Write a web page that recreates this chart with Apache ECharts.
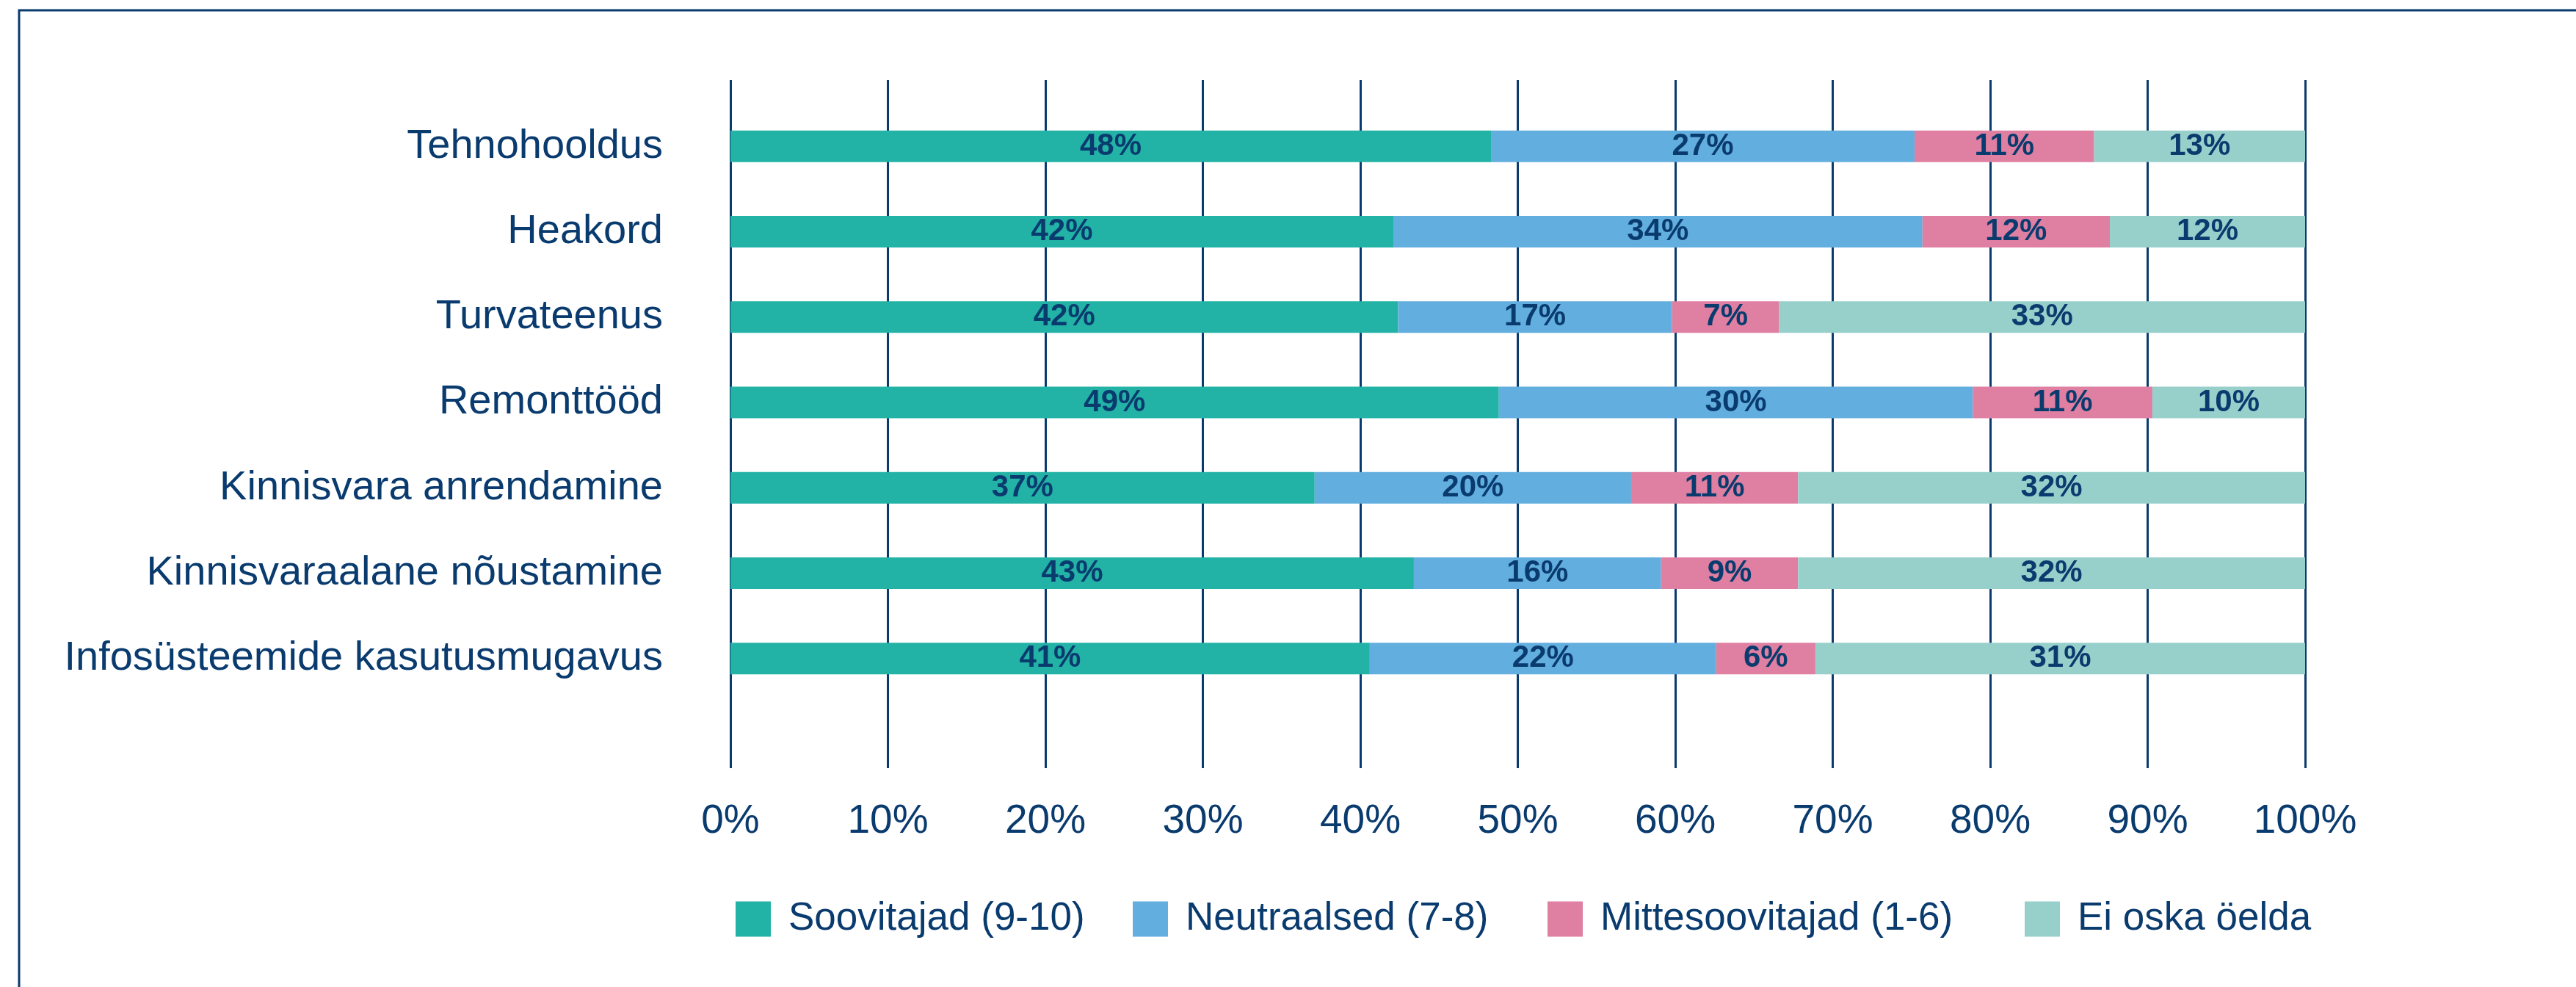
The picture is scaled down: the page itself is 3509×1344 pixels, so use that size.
<!DOCTYPE html>
<html>
<head>
<meta charset="utf-8">
<title>Soovitusindeks teenuste lõikes</title>
<script src="https://cdn.jsdelivr.net/npm/echarts@6/dist/echarts.min.js"></script>
<style>
  html, body { margin: 0; padding: 0; background: #fff; }
  #main { width: 3509px; height: 1344px; }
</style>
</head>
<body>
<div id="main"></div>
<script>
// andmed
var categories = [
  "Tehnohooldus",
  "Heakord",
  "Turvateenus",
  "Remonttööd",
  "Kinnisvara anrendamine",
  "Kinnisvaraalane nõustamine",
  "Infosüsteemide kasutusmugavus"
];
var seriesNames = ["Soovitajad (9-10)", "Neutraalsed (7-8)", "Mittesoovitajad (1-6)", "Ei oska öelda"];
var soovitajad = [48.3, 42.1, 42.4, 48.8, 37.1, 43.4, 40.6];
var neutraalsed = [26.9, 33.6, 17.4, 30.1, 20.1, 15.7, 22.0];
var mittesoovitajad = [11.4, 11.9, 6.8, 11.4, 10.6, 8.7, 6.3];
var eiOska = [13.4, 12.4, 33.4, 9.7, 32.2, 32.2, 31.1];
var xTicks = [0, 10, 20, 30, 40, 50, 60, 70, 80, 90, 100];

var navy = "#0a3b6e";
var colors = ["#22b2a6", "#62aedf", "#df7fa1", "#97d0cb"];
var font = "'Liberation Sans', Arial, sans-serif";
// legendi kirjete vasakud servad (Excelis pole vahed ühtlased)
var legendLeft = [997, 1538, 2103, 2753];

var chart = echarts.init(document.getElementById("main"));

function bar(name, data, i) {
  return {
    name: name,
    type: "bar",
    stack: "kokku",
    xAxisIndex: 1,
    yAxisIndex: 1,
    barWidth: 43,
    data: data,
    itemStyle: { color: colors[i] },
    label: {
      show: true,
      position: "inside",
      color: navy,
      fontFamily: font,
      fontWeight: "bold",
      fontSize: 42,
      formatter: function (p) { return Math.round(p.value) + "%"; }
    }
  };
}

var legends = seriesNames.map(function (name, i) {
  return {
    data: [name],
    left: legendLeft[i],
    top: 1220,
    itemWidth: 48,
    itemHeight: 48,
    icon: "rect",
    textStyle: { color: navy, fontFamily: font, fontSize: 53, padding: [0, 0, 0, 19] }
  };
});

chart.setOption({
  backgroundColor: "#fff",
  animation: false,
  // raam (ülemine ja vasak serv)
  graphic: [{
    type: "rect",
    shape: { x: 26, y: 14, width: 4000, height: 4000 },
    style: { fill: "none", stroke: navy, lineWidth: 3 },
    z: -1
  }],
  grid: [
    // ruudustik ja x-telje sildid
    { left: 995, right: 369, top: 109, bottom: 298 },
    // tulbad
    { left: 995, right: 369, top: 141, bottom: 389 }
  ],
  legend: legends,
  xAxis: [
    {
      gridIndex: 0,
      type: "value",
      min: xTicks[0],
      max: xTicks[xTicks.length - 1],
      interval: 10,
      axisLine: { show: false },
      axisTick: { show: false },
      splitLine: { show: true, lineStyle: { color: navy, width: 3 } },
      axisLabel: {
        color: navy,
        fontFamily: font,
        fontSize: 55,
        margin: 45,
        formatter: "{value}%"
      }
    },
    { gridIndex: 1, type: "value", min: 0, max: 100, show: false }
  ],
  yAxis: [
    { gridIndex: 0, type: "category", data: categories, show: false },
    {
      gridIndex: 1,
      type: "category",
      inverse: true,
      data: categories,
      axisLine: { show: false },
      axisTick: { show: false },
      splitLine: { show: false },
      axisLabel: { color: navy, fontFamily: font, fontSize: 56, margin: 92 }
    }
  ],
  series: [
    bar(seriesNames[0], soovitajad, 0),
    bar(seriesNames[1], neutraalsed, 1),
    bar(seriesNames[2], mittesoovitajad, 2),
    bar(seriesNames[3], eiOska, 3)
  ]
});
</script>
</body>
</html>
